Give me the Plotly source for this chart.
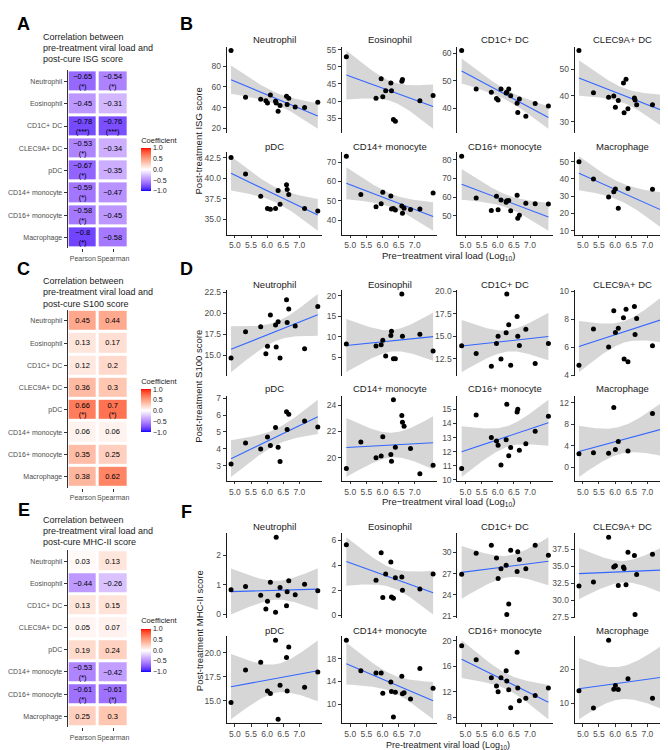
import numpy as np
import plotly.graph_objects as go

W, H = 668, 750
FONT = "Liberation Sans, Arial, sans-serif"

# ---------------- heatmap data ----------------
CELLS = ["Neutrophil", "Eosinophil", "CD1C+ DC", "CLEC9A+ DC", "pDC",
         "CD14+ monocyte", "CD16+ monocyte", "Macrophage"]
METHODS = ["Pearson", "Spearman"]

ISG_PEARSON = [-0.65, -0.45, -0.78, -0.53, -0.67, -0.59, -0.58, -0.8]
ISG_SPEARMAN = [-0.54, -0.31, -0.76, -0.34, -0.35, -0.47, -0.45, -0.58]
ISG_SIG_P = ["(*)", "", "(***)", "(*)", "(*)", "(*)", "(*)", "(*)"]
ISG_SIG_S = ["(*)", "", "(***)", "", "", "", "", ""]

S100_PEARSON = [0.45, 0.13, 0.12, 0.36, 0.66, 0.06, 0.35, 0.38]
S100_SPEARMAN = [0.44, 0.17, 0.2, 0.3, 0.7, 0.06, 0.25, 0.62]
S100_SIG_P = ["", "", "", "", "(*)", "", "", ""]
S100_SIG_S = ["", "", "", "", "(*)", "", "", ""]

MHC_PEARSON = [0.03, -0.44, 0.13, 0.05, 0.19, -0.53, -0.61, 0.25]
MHC_SPEARMAN = [0.13, -0.26, 0.15, 0.07, 0.24, -0.42, -0.61, 0.3]
MHC_SIG_P = ["", "", "", "", "", "(*)", "(*)", ""]
MHC_SIG_S = ["", "", "", "", "", "", "(*)", ""]

# ---------------- scatter data (one value per patient, None = missing) ----------------
VIRAL_LOAD = [4.88, 5.33, 5.80, 5.96, 6.01, 6.10, 6.26, 6.28, 6.34, 6.40,
              6.60, 6.62, 6.67, 6.87, 7.16, 7.57]

ISG_NEUTROPHIL = [95, 50, 48, 46.5, 44.5, 52, 46, 44.5, 36.5, 42, 51, 43, 49, 40.5, 40, 45]
ISG_EOSINOPHIL = [52.9, None, 40.8, 46.5, 41.3, 43.0, 45.3, 43.0, 34.6, 34.1, 45.8, 46.3, None, None, 40.1, 41.6]
ISG_CD1C = [61, 47, 45.8, 43.5, 43, 47, 45.5, 45.8, 47, 44.5, 41.8, 38.4, 43.3, 37, 41.7, 40.8]
ISG_CLEC9A = [57.2, 41.1, 39.4, 39.9, 35.6, 38.1, 44.8, 33.5, 46.2, 35.0, 39.1, 38.3, 36.5, None, 36.5, 39.6]
ISG_PDC = [42.5, 40.5, 37.8, None, 36.3, 36.2, 36.3, None, 38.5, 36.8, 39.2, 38.6, 38.0, None, 36.3, 36.0]
ISG_CD14 = [73, 53.3, 47, 48.5, 54.4, None, 52.5, 45.8, 46.1, 45.3, 47.4, 43.6, 46.2, 45.5, 45.8, 54]
ISG_CD16 = [81.8, 59.5, 52.8, 60.5, 53.3, 58.5, 57.3, 58.0, 58.2, 52.7, 61, 48.7, 50.3, 56.7, 56.5, 56.3]
ISG_MACROPHAGE = [50, 40, 29.5, 32.5, 34.2, 23, None, None, None, 34.5, None, None, None, None, 34, 17.3]

S100_NEUTROPHIL = [14.7, 17.8, 18.4, 15.2, 16.1, 19.8, 18.6, 16.0, 19.0, 14.7, 21.6, 18.9, 20.5, 18.5, 15.8, 20.8]
S100_EOSINOPHIL = [8.2, None, 7.7, 8.0, 9.1, 5.3, 10.3, 11.3, 4.6, 4.6, 20.4, 10.1, None, None, 10.6, 6.5]
S100_CD1C = [13.95, 13.1, 11.7, 14.2, 15.0, 12.5, 15.4, 19.7, 16.3, 11.8, 17.2, 15.0, 14.0, 15.8, 12.0, 14.2]
S100_CLEC9A = [4.7, 7.3, 6.0, 8.6, 7.05, 7.35, 8.1, 5.15, 8.7, 4.95, 8.9, 6.9, 8.05, None, 6.1, 8.35]
S100_PDC = [3.1, 4.35, 4.0, None, 4.7, 4.2, 5.27, None, 4.1, 3.25, 6.2, 5.15, 6.05, None, 5.65, 5.3]
S100_CD14 = [19.2, 21.2, 20.0, 20.15, 21.6, None, 20.25, 19.75, 24.4, 20.8, 23.2, 22.7, 22.4, 20.7, 18.8, 19.45]
S100_CD16 = [10.8, 14.6, 13.0, 12.75, 12.45, 11.05, 12.85, 15.35, 11.7, 12.3, 14.8, 15.0, 12.1, 12.55, 13.45, 14.5]
S100_MACROPHAGE = [2.5, 2.7, 2.6, 11.1, 3.3, 4.8, None, None, None, 3.0, None, None, None, None, 10.0, 4.6]

MHC_NEUTROPHIL = [0.84, 0.95, 0.65, 0.18, 0.45, 1.09, 0.07, 2.62, 0.65, 0.91, 0.29, 0.77, 1.14, 0.67, 1.02, 0.80]
MHC_EOSINOPHIL = [5.65, None, 2.8, 5.0, 1.4, 3.3, 4.25, 1.45, 1.35, 3.0, 3.05, 2.0, None, None, 2.1, 3.3]
MHC_CD1C = [26.9, 29.9, 31.0, 29.2, 26.3, 27.7, 28.2, 21.2, 22.7, 30.3, 27.3, 30.1, 29.0, 27.7, 31.0, 29.6]
MHC_CLEC9A = [32.1, 32.7, 39.3, 34.9, 35.1, 32.2, 34.9, 34.7, 32.3, 37.1, 36.6, 27.9, 33.8, None, 36.8, 33.0]
MHC_PDC = [14.8, 18.2, 19.0, None, 16.0, 15.75, 21.3, None, 13.05, 16.6, 19.5, 16.0, 20.6, None, 16.4, 18.0]
MHC_CD14 = [21.3, 15.9, 15.5, 15.5, 11.9, None, 13.9, 12.2, 7.7, 12.1, 14.9, 11.8, 12.0, 10.9, 16.3, 12.8]
MHC_CD16 = [19.2, 17.0, 14.2, 12.9, 12.0, 14.2, 15.3, 13.7, 12.3, 9.5, 18.2, 12.6, 10.6, 11.0, 11.4, 12.6]
MHC_MACROPHAGE = [13.6, 8.5, 28.6, 14.1, 15.2, 14.0, None, None, None, 17.2, None, None, None, None, 11.4, 20.5]

X_TICKS = [5.0, 5.5, 6.0, 6.5, 7.0]
ISG_Y_TICKS = [[20, 40, 60, 80], [35, 40, 45, 50, 55], [40, 50, 60], [30, 40, 50],
               [35.0, 37.5, 40.0, 42.5], [40, 50, 60, 70], [40, 50, 60, 70, 80], [10, 20, 30, 40, 50]]
S100_Y_TICKS = [[12.5, 15.0, 17.5, 20.0, 22.5], [5, 10, 15, 20], [12.5, 15.0, 17.5, 20.0], [4, 6, 8, 10],
                [3, 4, 5, 6, 7], [20, 22, 24], [10, 11, 12, 13, 14, 15], [0, 4, 8, 12]]
MHC_Y_TICKS = [[0, 1, 2], [0, 2, 4, 6], [21, 24, 27, 30], [27.5, 30.0, 32.5, 35.0, 37.5],
               [15.0, 17.5, 20.0], [10, 14, 18], [8, 12, 16, 20], [10, 20]]

T95 = {5: 2.571, 6: 2.447, 7: 2.365, 8: 2.306, 9: 2.262, 10: 2.228, 11: 2.201,
       12: 2.179, 13: 2.160, 14: 2.145, 15: 2.131}

# ---------------- colour scale (blue-white-red, Lab interpolation) ----------------
def _lin(c):
    c = c / 255
    return c / 12.92 if c <= 0.04045 else ((c + 0.055) / 1.055) ** 2.4

def _gam(c):
    c = 12.92 * c if c <= 0.0031308 else 1.055 * max(c, 0) ** (1 / 2.4) - 0.055
    return int(round(min(max(c, 0), 1) * 255))

def rgb2lab(r, g, b):
    R, G, B = _lin(r), _lin(g), _lin(b)
    X = 0.4124 * R + 0.3576 * G + 0.1805 * B
    Y = 0.2126 * R + 0.7152 * G + 0.0722 * B
    Z = 0.0193 * R + 0.1192 * G + 0.9505 * B
    def f(t):
        return t ** (1 / 3) if t > 216 / 24389 else (24389 / 27 * t + 16) / 116
    a, b_, c = f(X / 0.95047), f(Y), f(Z / 1.08883)
    return 116 * b_ - 16, 500 * (a - b_), 200 * (b_ - c)

def lab2rgb(L, a, b):
    fy_ = (L + 16) / 116
    fx_ = fy_ + a / 500
    fz_ = fy_ - b / 200
    def finv(t):
        return t ** 3 if t ** 3 > 216 / 24389 else (116 * t - 16) / (24389 / 27)
    X, Y, Z = 0.95047 * finv(fx_), finv(fy_), 1.08883 * finv(fz_)
    R = 3.2406 * X - 1.5372 * Y - 0.4986 * Z
    G = -0.9689 * X + 1.8758 * Y + 0.0415 * Z
    B = 0.0557 * X - 0.2040 * Y + 1.0570 * Z
    return _gam(R), _gam(G), _gam(B)

LAB_W = rgb2lab(255, 255, 255)
LAB_B = rgb2lab(0, 0, 255)
LAB_R = rgb2lab(255, 0, 0)
COLORSCALE = []
for v in np.linspace(-1, 1, 41):
    end = LAB_B if v < 0 else LAB_R
    t = abs(v)
    lab = [LAB_W[i] + (end[i] - LAB_W[i]) * t for i in range(3)]
    r, g, b = lab2rgb(*lab)
    COLORSCALE.append([(v + 1) / 2, f"rgb({r},{g},{b})"])

# ---------------- helpers ----------------
layout_axes = {}
annotations = []
axis_count = [0]


def add_axes(x0, x1, y0, y1, xopts, yopts):
    axis_count[0] += 1
    i = axis_count[0]
    sx = "" if i == 1 else str(i)
    layout_axes["xaxis" + sx] = dict(domain=[x0 / W, x1 / W], anchor="y" + sx, **xopts)
    layout_axes["yaxis" + sx] = dict(domain=[1 - y1 / H, 1 - y0 / H], anchor="x" + sx, **yopts)
    return "x" + sx, "y" + sx


def text(x, y, s, size, color="#1a1a1a", xanchor="center", yanchor="middle", bold=False, angle=0):
    if bold:
        s = "<b>" + s + "</b>"
    annotations.append(dict(x=x / W, y=1 - y / H, xref="paper", yref="paper", text=s,
                            showarrow=False, xanchor=xanchor, yanchor=yanchor, textangle=angle,
                            font=dict(size=size, color=color, family=FONT)))


def fmt_val(v, sig):
    s = f"{v:g}".replace("-", "−")
    return s + ("<br>" + sig if sig else "")


def fmt_tick(vals):
    if any(abs(v - round(v)) > 1e-9 for v in vals):
        return [f"{v:.1f}" for v in vals]
    return [f"{int(round(v))}" for v in vals]


fig = go.Figure()

# ---------------- heatmaps ----------------
HEATMAPS = [
    (ISG_PEARSON, ISG_SPEARMAN, ISG_SIG_P, ISG_SIG_S, "ISG", (59, 239), (25, 36.5, 48), 152, 1),
    (S100_PEARSON, S100_SPEARMAN, S100_SIG_P, S100_SIG_S, "S100", (301, 481), (272, 283.5, 295), 396, 2),
    (MHC_PEARSON, MHC_SPEARMAN, MHC_SIG_P, MHC_SIG_S, "MHC-II", (544, 723), (513, 524.5, 536), 638, 3),
]
for pear, spear, sigp, sigs, name, (ty0, ty1), tl, cb_y, ci in HEATMAPS:
    xa, ya = add_axes(57, 118, ty0, ty1,
                      dict(showline=False, ticks="outside", ticklen=3, tickcolor="#333", tickangle=0,
                           tickfont=dict(size=7, color="#4D4D4D", family=FONT), showgrid=False,
                           zeroline=False, fixedrange=True),
                      dict(autorange="reversed", showline=True, linecolor="#333", linewidth=1,
                           ticks="outside", ticklen=3, tickcolor="#333",
                           tickfont=dict(size=7, color="#4D4D4D", family=FONT), showgrid=False,
                           zeroline=False, fixedrange=True))
    z = [[p, s] for p, s in zip(pear, spear)]
    txt = [[fmt_val(p, a), fmt_val(s, b)] for p, s, a, b in zip(pear, spear, sigp, sigs)]
    cax = "coloraxis" if ci == 1 else f"coloraxis{ci}"
    fig.add_trace(go.Heatmap(z=z, x=METHODS, y=CELLS, text=txt, texttemplate="%{text}",
                             textfont=dict(size=7.5, color="black", family=FONT),
                             coloraxis=cax, xgap=3, ygap=3, hoverinfo="skip",
                             xaxis=xa, yaxis=ya))
    layout_axes[cax] = dict(
        colorscale=COLORSCALE, cmin=-1, cmax=1,
        colorbar=dict(x=131 / W, xanchor="left", y=1 - cb_y / H, yanchor="middle",
                      len=57, lenmode="pixels", thickness=10, thicknessmode="pixels",
                      xpad=0, ypad=0, outlinewidth=0, ticks="",
                      tickvals=[-1, -0.5, 0, 0.5, 1],
                      ticktext=["−1.0", "−0.5", "0.0", "0.5", "1.0"],
                      tickfont=dict(size=7, color="#1a1a1a", family=FONT),
                      title=dict(text="Coefficient", side="top",
                                 font=dict(size=7.5, color="#1a1a1a", family=FONT))))
    lines = ["Correlation between", "pre-treatment viral load and", f"post-cure {name} score"]
    for ln, yy in zip(lines, tl):
        text(30, yy, ln, 9, xanchor="left")

# ---------------- scatter panels ----------------
SCORES = [
    ("ISG", [ISG_NEUTROPHIL, ISG_EOSINOPHIL, ISG_CD1C, ISG_CLEC9A, ISG_PDC, ISG_CD14, ISG_CD16, ISG_MACROPHAGE], ISG_Y_TICKS),
    ("S100", [S100_NEUTROPHIL, S100_EOSINOPHIL, S100_CD1C, S100_CLEC9A, S100_PDC, S100_CD14, S100_CD16, S100_MACROPHAGE], S100_Y_TICKS),
    ("MHC-II", [MHC_NEUTROPHIL, MHC_EOSINOPHIL, MHC_CD1C, MHC_CLEC9A, MHC_PDC, MHC_CD14, MHC_CD16, MHC_MACROPHAGE], MHC_Y_TICKS),
]
ROW_BOXES = [(35, 122), (142, 225), (281, 368), (388, 474), (527, 613), (631, 719)]
TITLE_Y = [28, 136, 275, 381, 520, 625]
COL_LEFT = [217, 333, 449, 567]
PANEL_W = 96

vl = np.array(VIRAL_LOAD)
xspan = vl.max() - vl.min()
XR = [vl.min() - 0.05 * xspan, vl.max() + 0.05 * xspan]

for si, (sname, series, yticks) in enumerate(SCORES):
    for ci, ys in enumerate(series):
        row = si * 2 + ci // 4
        col = ci % 4
        bottom = (row % 2 == 1)
        idx = [i for i, v in enumerate(ys) if v is not None]
        x = vl[idx]
        y = np.array([ys[i] for i in idx], dtype=float)
        n = len(x)
        slope, icpt = np.polyfit(x, y, 1)
        xg = np.linspace(x.min(), x.max(), 80)
        fit = icpt + slope * xg
        resid = y - (icpt + slope * x)
        s = np.sqrt(np.sum(resid ** 2) / (n - 2))
        sxx = np.sum((x - x.mean()) ** 2)
        se = s * np.sqrt(1 / n + (xg - x.mean()) ** 2 / sxx)
        tq = T95[n - 2]
        up, lo = fit + tq * se, fit - tq * se
        ymin = min(y.min(), lo.min())
        ymax = max(y.max(), up.max())
        pad = 0.05 * (ymax - ymin)
        yr = [ymin - pad, ymax + pad]

        t0, t1 = ROW_BOXES[row]
        l = COL_LEFT[col]
        xopts = dict(range=XR, showgrid=False, zeroline=False, fixedrange=True)
        if bottom:
            xopts.update(showline=True, linecolor="#1a1a1a", linewidth=1, ticks="outside",
                         ticklen=2.5, tickcolor="#333", tickvals=X_TICKS, ticktext=fmt_tick(X_TICKS),
                         tickfont=dict(size=8.5, color="#4D4D4D", family=FONT))
        else:
            xopts.update(showline=False, ticks="", showticklabels=False)
        yopts = dict(range=yr, showgrid=False, zeroline=False, fixedrange=True, showline=True,
                     linecolor="#1a1a1a", linewidth=1, ticks="outside", ticklen=3, tickcolor="#333",
                     tickvals=yticks[ci], ticktext=fmt_tick(yticks[ci]),
                     tickfont=dict(size=8.5, color="#4D4D4D", family=FONT))
        xa, ya = add_axes(l, l + PANEL_W, t0, t1, xopts, yopts)

        fig.add_trace(go.Scatter(x=np.concatenate([xg, xg[::-1]]), y=np.concatenate([up, lo[::-1]]),
                                 fill="toself", fillcolor="rgba(153,153,153,0.4)",
                                 line=dict(width=0), mode="lines", hoverinfo="skip",
                                 xaxis=xa, yaxis=ya))
        fig.add_trace(go.Scatter(x=xg, y=fit, mode="lines", line=dict(color="#3366FF", width=1.1),
                                 hoverinfo="skip", xaxis=xa, yaxis=ya))
        fig.add_trace(go.Scatter(x=x, y=y, mode="markers", marker=dict(color="black", size=5),
                                 xaxis=xa, yaxis=ya))
        text(l + PANEL_W / 2, TITLE_Y[row], CELLS[ci], 9.5)

# axis titles
text(189, 130, "Post-treatment ISG score", 9.5, angle=-90)
text(189, 378, "Post-treatment S100 score", 9.5, angle=-90)
text(189, 625, "Post-treatment MHC-II score", 9.5, angle=-90)
text(440, 247, "Pre−treatment viral load (Log<sub>10</sub>)", 9.5)
text(440, 495, "Pre−treatment viral load (Log<sub>10</sub>)", 9.5)
text(440, 741, "Pre-treatment viral load (Log<sub>10</sub>)", 9)

# panel letters
for lab, (px, py) in zip("ABCDEF", [(13, 12), (177, 12), (13, 260), (177, 260), (13, 503), (177, 505)]):
    text(px, py, lab, 18, color="black", bold=True)

fig.update_layout(width=W, height=H, margin=dict(l=0, r=0, t=0, b=0), showlegend=False,
                  plot_bgcolor="white", paper_bgcolor="white",
                  font=dict(family=FONT), annotations=annotations, **layout_axes)

fig.write_html("out.html")
